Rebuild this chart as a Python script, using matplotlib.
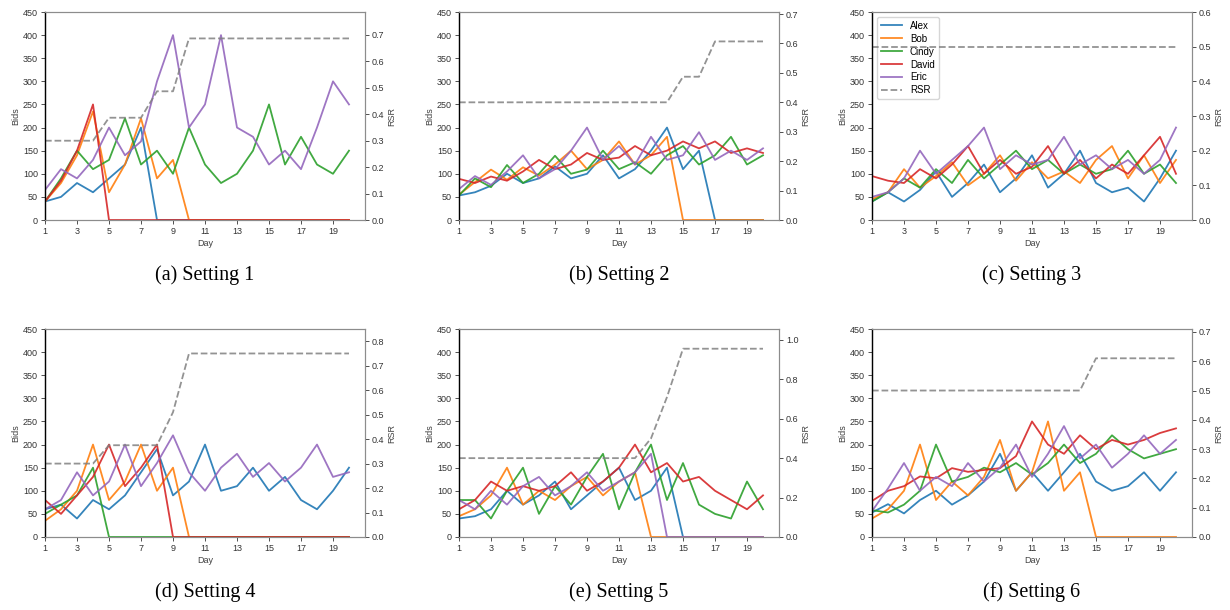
import matplotlib
matplotlib.use("Agg")
import matplotlib.pyplot as plt
import numpy as np

days = list(range(1, 21))
names = ["Alex", "Bob", "Cindy", "David", "Eric"]
captions = ["(a) Setting 1", "(b) Setting 2", "(c) Setting 3",
            "(d) Setting 4", "(e) Setting 5", "(f) Setting 6"]
day_ticks = list(range(1, 21, 2))
bid_ticks = list(range(0, 451, 50))

# Setting 1
s1_alex = [40, 50, 80, 60, 90, 120, 200, 0, 0, 0, 0, 0, 0, 0, 0, 0, 0, 0, 0, 0]
s1_bob = [40, 80, 140, 235, 60, 120, 220, 90, 130, 0, 0, 0, 0, 0, 0, 0, 0, 0, 0, 0]
s1_cindy = [40, 90, 150, 110, 130, 220, 120, 150, 100, 200, 120, 80, 100, 150, 250, 120, 180, 120, 100, 150]
s1_david = [40, 85, 150, 250, 0, 0, 0, 0, 0, 0, 0, 0, 0, 0, 0, 0, 0, 0, 0, 0]
s1_eric = [65, 110, 90, 130, 200, 140, 170, 300, 400, 200, 250, 400, 200, 180, 120, 150, 110, 200, 300, 250]
s1_rsr = [0.3, 0.3, 0.3, 0.3, 0.387, 0.387, 0.387, 0.487, 0.487, 0.687,
          0.687, 0.687, 0.687, 0.687, 0.687, 0.687, 0.687, 0.687, 0.687, 0.687]

# Setting 2
s2_alex = [53, 60, 74, 100, 80, 90, 116, 90, 100, 140, 90, 110, 150, 200, 110, 150, 0, 0, 0, 0]
s2_bob = [55, 82, 109, 87, 114, 96, 120, 150, 110, 130, 170, 120, 140, 180, 0, 0, 0, 0, 0, 0]
s2_cindy = [53, 90, 71, 119, 80, 100, 139, 100, 109, 150, 110, 125, 100, 140, 160, 120, 140, 180, 120, 140]
s2_david = [89, 80, 94, 85, 105, 130, 110, 120, 145, 130, 135, 160, 140, 150, 170, 155, 170, 145, 155, 145]
s2_eric = [67, 95, 76, 105, 140, 90, 110, 150, 200, 130, 160, 120, 180, 130, 140, 190, 130, 150, 130, 155]
s2_rsr = [0.4] * 14 + [0.487, 0.487] + [0.607] * 4

# Setting 3
s3_alex = [40, 60, 40, 65, 105, 50, 80, 120, 60, 90, 140, 70, 100, 150, 80, 60, 70, 40, 90, 150]
s3_bob = [45, 60, 110, 70, 95, 125, 75, 100, 140, 85, 125, 90, 105, 80, 130, 160, 90, 140, 80, 130]
s3_cindy = [40, 60, 90, 70, 110, 80, 130, 90, 120, 150, 110, 130, 100, 120, 100, 110, 150, 100, 120, 80]
s3_david = [95, 85, 80, 110, 90, 120, 160, 100, 130, 100, 115, 160, 100, 130, 90, 120, 100, 140, 180, 100]
s3_eric = [50, 60, 90, 150, 100, 130, 160, 200, 110, 140, 120, 130, 180, 120, 140, 110, 130, 100, 130, 200]
s3_rsr = [0.5] * 20

# Setting 4
s4_alex = [60, 70, 40, 80, 60, 90, 140, 190, 90, 120, 200, 100, 110, 150, 100, 130, 80, 60, 100, 150]
s4_bob = [35, 60, 100, 200, 80, 120, 200, 100, 150, 0, 0, 0, 0, 0, 0, 0, 0, 0, 0, 0]
s4_cindy = [50, 70, 90, 150, 0, 0, 0, 0, 0, 0, 0, 0, 0, 0, 0, 0, 0, 0, 0, 0]
s4_david = [80, 50, 90, 130, 200, 110, 150, 200, 0, 0, 0, 0, 0, 0, 0, 0, 0, 0, 0, 0]
s4_eric = [60, 80, 140, 90, 120, 200, 110, 160, 220, 140, 100, 150, 180, 130, 160, 120, 150, 200, 130, 140]
s4_rsr = [0.3, 0.3, 0.3, 0.3, 0.375, 0.375, 0.375, 0.375, 0.51] + [0.75] * 11

# Setting 5
s5_alex = [40, 45, 60, 100, 70, 90, 120, 60, 90, 120, 150, 80, 100, 150, 0, 0, 0, 0, 0, 0]
s5_bob = [45, 60, 90, 150, 70, 100, 80, 110, 130, 90, 120, 140, 0, 0, 0, 0, 0, 0, 0, 0]
s5_cindy = [80, 80, 40, 100, 150, 50, 110, 70, 130, 180, 60, 140, 200, 80, 160, 70, 50, 40, 120, 60]
s5_david = [60, 80, 120, 100, 110, 100, 110, 140, 100, 120, 150, 200, 140, 160, 120, 130, 100, 80, 60, 90]
s5_eric = [80, 60, 100, 70, 110, 130, 90, 110, 140, 100, 120, 140, 180, 0, 0, 0, 0, 0, 0, 0]
s5_rsr = [0.4] * 12 + [0.5, 0.71] + [0.955] * 6

# Setting 6
s6_alex = [53, 71, 51, 80, 100, 70, 90, 120, 180, 100, 140, 100, 140, 180, 120, 100, 110, 140, 100, 140]
s6_bob = [40, 60, 100, 200, 80, 120, 90, 130, 210, 100, 140, 250, 100, 140, 0, 0, 0, 0, 0, 0]
s6_cindy = [58, 53, 70, 100, 200, 120, 130, 150, 140, 160, 135, 160, 200, 160, 180, 220, 190, 170, 180, 190]
s6_david = [78, 100, 110, 131, 127, 149, 141, 145, 149, 175, 250, 200, 180, 220, 190, 210, 200, 210, 225, 235]
s6_eric = [56, 105, 160, 100, 130, 110, 160, 120, 150, 200, 130, 180, 240, 170, 200, 150, 180, 220, 180, 210]
s6_rsr = [0.5] * 14 + [0.61] * 6

settings = [
    ([s1_alex, s1_bob, s1_cindy, s1_david, s1_eric], s1_rsr),
    ([s2_alex, s2_bob, s2_cindy, s2_david, s2_eric], s2_rsr),
    ([s3_alex, s3_bob, s3_cindy, s3_david, s3_eric], s3_rsr),
    ([s4_alex, s4_bob, s4_cindy, s4_david, s4_eric], s4_rsr),
    ([s5_alex, s5_bob, s5_cindy, s5_david, s5_eric], s5_rsr),
    ([s6_alex, s6_bob, s6_cindy, s6_david, s6_eric], s6_rsr),
]

plt.rcParams['font.family'] = ['Liberation Sans', 'DejaVu Sans']

W, H = 1230, 610
fig = plt.figure(figsize=(W / 100, H / 100), dpi=100)

lefts = [45, 459, 872]
tops = [12, 329]
ax_w, ax_h = 320, 208

for i, (bids, rsr) in enumerate(settings):
    row, col = divmod(i, 3)
    l = lefts[col] / W
    b = 1 - (tops[row] + ax_h) / H
    ax = fig.add_axes([l, b, ax_w / W, ax_h / H])
    ax2 = ax.twinx()

    lines = []
    for name, vals in zip(names, bids):
        ln, = ax.plot(days, vals, lw=1.3, alpha=0.9, label=name)
        lines.append(ln)
    ln, = ax2.plot(days, rsr, color='gray', ls='--', lw=1.3, alpha=0.85, label='RSR')
    lines.append(ln)

    ax.set_xlim(1, 21)
    ax.set_ylim(0, 450)
    ax.set_xticks(day_ticks)
    ax.set_yticks(bid_ticks)
    ax2.set_ylim(0, max(rsr) + 0.1)

    ax.set_xlabel('Day', fontsize=6.5, color='0.25', labelpad=2)
    ax.set_ylabel('Bids', fontsize=6.5, color='0.25', labelpad=2)
    ax2.set_ylabel('RSR', fontsize=6.5, color='0.25', labelpad=2)

    for a in (ax, ax2):
        a.tick_params(labelsize=6.5, length=3, width=0.6, pad=2, colors='0.2')
        for s in a.spines.values():
            s.set_color('0.55')
            s.set_linewidth(0.8)
    ax2.spines['left'].set_color('black')
    ax2.spines['left'].set_linewidth(1.0)

    if i == 2:
        ax.legend(handles=lines, loc='upper left', fontsize=7,
                  frameon=True, edgecolor='0.8', handlelength=2.2,
                  borderpad=0.4, labelspacing=0.3)

    cx = (lefts[col] + ax_w / 2) / W
    cy = 1 - (275 if row == 0 else 592) / H
    fig.text(cx, cy, captions[i], ha='center', va='center',
             fontsize=14.5, family=['Liberation Serif', 'DejaVu Serif'])

fig.savefig('out.png', dpi=100)
